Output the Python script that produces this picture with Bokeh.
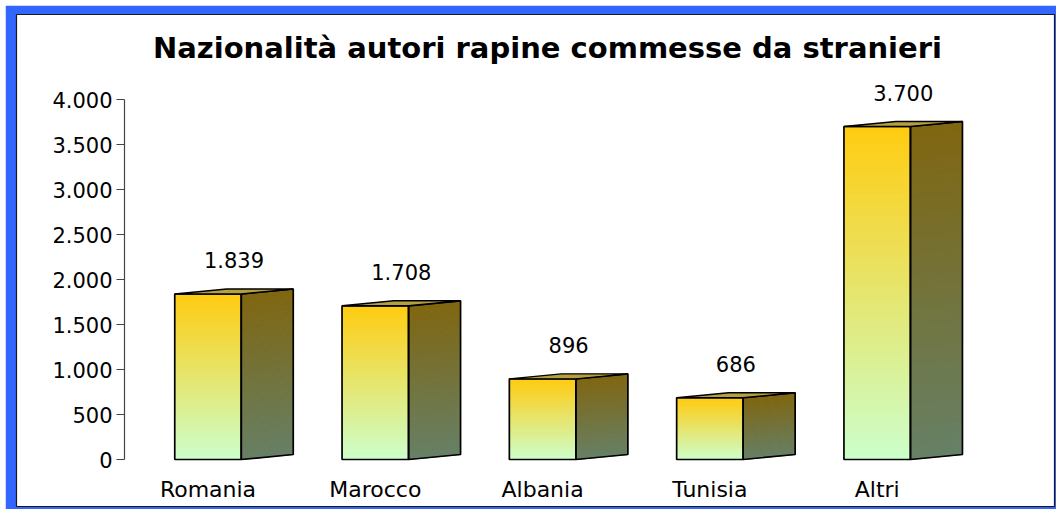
import numpy as np
from bokeh.plotting import figure
from bokeh.models import FixedTicker, Range1d, LinearAxis, Label
from bokeh.core.properties import value
from bokeh.embed import file_html
from bokeh.resources import INLINE

# ---- data ----
categories = ["Romania", "Marocco", "Albania", "Tunisia", "Altri"]
counts = [1839, 1708, 896, 686, 3700]
value_labels = ["1.839", "1.708", "896", "686", "3.700"]
y_ticks = [0, 500, 1000, 1500, 2000, 2500, 3000, 3500, 4000]
y_tick_labels = ["0", "500", "1.000", "1.500", "2.000", "2.500", "3.000", "3.500", "4.000"]
title_text = "Nazionalità autori rapine commesse da stranieri"

# ---- layout constants (page px, canvas offset by OX/OY) ----
OX, OY = 5, 5
W, H = 1056 - OX, 509 - OY
FL, FR, FT, FB = 16, 1054, 14, 506      # white panel = plot frame (page px)
C0, PXX = 207.5, 167.3                   # page x of category 0, px per category
Y0S, PXY = 459, 0.09                     # page y of value 0, px per unit

def xd(sx):
    return (sx - C0) / PXX

def yd(sy):
    return (Y0S - sy) / PXY

FONT = "DejaVu Sans"
BLUE = "#3366ff"

p = figure(width=W, height=H,
           x_range=Range1d(xd(FL), xd(FR)), y_range=Range1d(yd(FB), yd(FT)),
           output_backend="svg", toolbar_location=None,
           x_axis_location=None, y_axis_location=None,
           min_border_left=FL - OX, min_border_right=1056 - FR,
           min_border_top=FT - OY, min_border_bottom=509 - FB)
p.styles = {"margin-left": "%dpx" % OX, "margin-top": "%dpx" % OY}
p.border_fill_color = BLUE
p.background_fill_color = "white"
p.outline_line_color = "#1a1a1a"
p.outline_line_width = 1.2
p.xgrid.visible = False
p.ygrid.visible = False

# ---- 3D gradient bars ----
HALF = 33.25 / PXX
DX = 52 / PXX
DY = 5 / PXY
N = 60

def lerp(c0, c1, t):
    a = [int(c0[i:i + 2], 16) for i in (1, 3, 5)]
    b = [int(c1[i:i + 2], 16) for i in (1, 3, 5)]
    return "#%02x%02x%02x" % tuple(int(round(a[k] + (b[k] - a[k]) * t)) for k in range(3))

FRONT_TOP, FRONT_BOT = "#ffcc11", "#ccffcc"
SIDE_TOP, SIDE_BOT = "#806610", "#668066"
TOP_FACE = "#b4a040"

fl, fr, fb, ft, fc = [], [], [], [], []
sxs, sys, sc = [], [], []
for i, v in enumerate(counts):
    xl, xr = i - HALF, i + HALF
    for k in range(N):
        y0 = v * k / N
        y1 = v * (k + 1) / N
        t = 1 - (k + 0.5) / N  # 0 at top, 1 at bottom
        fl.append(xl); fr.append(xr); fb.append(y0); ft.append(y1)
        fc.append(lerp(FRONT_TOP, FRONT_BOT, t))
        sxs.append([xr, xr + DX, xr + DX, xr])
        sys.append([y0, y0 + DY, y1 + DY, y1])
        sc.append(lerp(SIDE_TOP, SIDE_BOT, t))

p.quad(left=fl, right=fr, bottom=fb, top=ft, fill_color=fc, line_color=fc, line_width=1)
p.patches(xs=sxs, ys=sys, fill_color=sc, line_color=sc, line_width=1)

# outlines
idx = list(range(len(counts)))
p.quad(left=[i - HALF for i in idx], right=[i + HALF for i in idx],
       bottom=[0] * len(counts), top=counts,
       fill_alpha=0, line_color="black", line_width=1.7)
p.patches(xs=[[i + HALF, i + HALF + DX, i + HALF + DX, i + HALF] for i in idx],
          ys=[[0, DY, v + DY, v] for v in counts],
          fill_alpha=0, line_color="black", line_width=1.7)
p.patches(xs=[[i - HALF, i - HALF + DX, i + HALF + DX, i + HALF] for i in idx],
          ys=[[v, v + DY, v + DY, v] for v in counts],
          fill_color=TOP_FACE, line_color="black", line_width=1.4)

# value labels
p.text(x=[i + DX / 2 for i in idx], y=counts, text=value_labels,
       text_align="center", text_baseline="middle", y_offset=-34,
       text_font=value(FONT), text_font_size="21px", text_color="black")

# ---- axes (drawn inside the white panel) ----
xa = LinearAxis(fixed_location=0)
xa.ticker = FixedTicker(ticks=idx)
xa.major_label_overrides = {i: c for i, c in enumerate(categories)}
xa.axis_line_color = None
xa.major_tick_line_color = None
xa.minor_tick_line_color = None
xa.major_label_standoff = 11
xa.major_label_text_font = FONT
xa.major_label_text_font_size = "22px"
xa.major_label_text_color = "black"
p.add_layout(xa, "below")

ya = LinearAxis(fixed_location=xd(124))
ya.ticker = FixedTicker(ticks=y_ticks)
ya.major_label_overrides = {t: l for t, l in zip(y_ticks, y_tick_labels)}
ya.bounds = (0, 4000)
ya.axis_line_color = "#444444"
ya.axis_line_width = 1.2
ya.major_tick_line_color = "#444444"
ya.major_tick_out = 8
ya.major_tick_in = 0
ya.minor_tick_line_color = None
ya.major_label_standoff = 4
ya.major_label_text_font = FONT
ya.major_label_text_font_size = "21px"
ya.major_label_text_color = "black"
p.add_layout(ya, "left")

# ---- title ----
title = Label(x=xd(547), y=yd(47), text=title_text,
              text_align="center", text_baseline="middle",
              text_font=FONT, text_font_size="29px", text_font_style="bold",
              text_color="black")
p.add_layout(title)

open("out.html", "w").write(file_html(p, INLINE))
